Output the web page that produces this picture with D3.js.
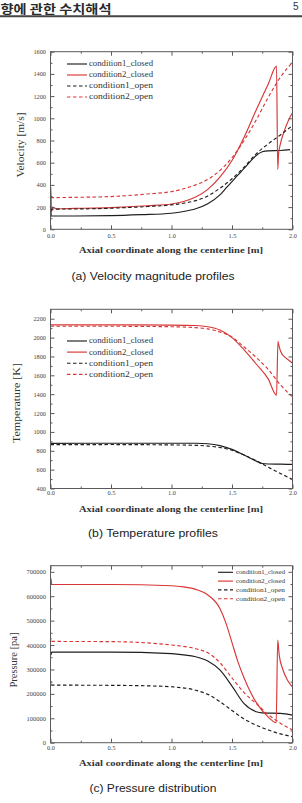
<!DOCTYPE html>
<html><head><meta charset="utf-8">
<script src="https://cdn.jsdelivr.net/npm/d3@7"></script>
<style>body{margin:0;background:#fff}svg{display:block}</style>
</head><body>
<script>
// ---------- data ----------
const seriesNames = ["condition1_closed", "condition2_closed", "condition1_open", "condition2_open"];
const xTicks = [0, 0.5, 1.0, 1.5, 2.0];
const xTickLabels = ["0.0", "0.5", "1.0", "1.5", "2.0"];
const velTicks = [0, 200, 400, 600, 800, 1000, 1200, 1400, 1600];
const tempTicks = [400, 600, 800, 1000, 1200, 1400, 1600, 1800, 2000, 2200];
const presTicks = [0, 100000, 200000, 300000, 400000, 500000, 600000, 700000];

// Velocity [m/s]  ([x, value])
const velC1Closed = [[0,120],[0.2,120],[0.5,123],[0.75,132],[1.0,145],[1.1,160],[1.2,185],[1.3,230],[1.4,310],[1.45,370],[1.5,430],[1.55,490],[1.6,548],[1.65,610],[1.7,665],[1.75,698],[1.8,707],[1.9,710],[1.98,718]];
const velC2Closed = [[0,190],[0.003,380],[0.008,150],[0.015,200],[0.05,185],[0.2,188],[0.5,195],[0.8,212],[1.0,228],[1.1,250],[1.2,290],[1.3,360],[1.4,470],[1.5,620],[1.6,830],[1.7,1075],[1.8,1310],[1.868,1470],[1.878,540],[1.885,680],[1.9,770],[1.93,880],[1.97,990],[2.0,1050]];
const velC1Open = [[0,180],[0.004,120],[0.01,182],[0.2,183],[0.5,190],[0.8,205],[1.0,220],[1.1,235],[1.2,258],[1.3,300],[1.4,370],[1.5,455],[1.6,560],[1.7,680],[1.8,770],[1.9,850],[2.0,935]];
const velC2Open = [[0,285],[0.2,288],[0.5,295],[0.8,318],[1.0,340],[1.1,365],[1.2,400],[1.3,450],[1.4,530],[1.5,645],[1.6,800],[1.7,985],[1.8,1190],[1.9,1370],[2.0,1505]];

// Temperature [K]
const tempC1Closed = [[0,878],[0.5,880],[1.0,880],[1.2,880],[1.3,875],[1.4,855],[1.5,815],[1.6,755],[1.7,690],[1.75,665],[1.8,660],[1.9,658],[2.0,655]];
const tempC2Closed = [[0,2135],[0.5,2135],[1.0,2133],[1.2,2128],[1.3,2115],[1.4,2080],[1.5,2000],[1.6,1870],[1.7,1720],[1.8,1560],[1.868,1390],[1.88,1960],[1.885,1930],[1.9,1860],[1.93,1800],[1.97,1760],[2.0,1728]];
const tempC1Open = [[0,865],[0.5,866],[1.0,862],[1.2,858],[1.3,850],[1.4,835],[1.5,805],[1.6,755],[1.7,695],[1.8,625],[1.9,560],[2.0,495]];
const tempC2Open = [[0,2120],[0.5,2120],[1.0,2115],[1.2,2105],[1.3,2092],[1.4,2060],[1.5,2005],[1.6,1900],[1.7,1790],[1.8,1660],[1.9,1500],[2.0,1370]];

// Pressure [pa]
const presC1Closed = [[0,372000],[0.004,360000],[0.01,371000],[0.5,371000],[1.0,365000],[1.1,360000],[1.2,352000],[1.3,335000],[1.4,298000],[1.5,232000],[1.6,160000],[1.7,127000],[1.75,122000],[1.9,120000],[2.0,113000]];
const presC2Closed = [[0,650000],[0.004,672000],[0.01,648000],[0.5,648000],[1.0,643000],[1.1,638000],[1.2,628000],[1.3,605000],[1.4,550000],[1.45,490000],[1.5,410000],[1.55,330000],[1.6,265000],[1.65,210000],[1.7,165000],[1.8,105000],[1.865,82000],[1.878,420000],[1.89,360000],[1.92,300000],[1.96,255000],[2.0,228000]];
const presC1Open = [[0,237000],[0.004,250000],[0.01,236000],[0.5,235000],[0.8,233000],[1.0,229000],[1.2,215000],[1.3,198000],[1.4,168000],[1.5,132000],[1.6,97000],[1.7,72000],[1.8,52000],[1.9,36000],[2.0,25000]];
const presC2Open = [[0,416000],[0.005,428000],[0.01,415000],[0.5,414000],[1.0,400000],[1.2,385000],[1.3,368000],[1.4,328000],[1.5,265000],[1.6,205000],[1.7,160000],[1.8,115000],[1.9,80000],[2.0,52000]];

const xTitle = "Axial coordinate along the centerline [m]";
const captions = ["(a)  Velocity  magnitude  profiles", "(b)  Temperature  profiles", "(c)  Pressure  distribution"];
const yTitles = ["Velocity [m/s]", "Temperature [K]", "Pressure [pa]"];

// ---------- drawing ----------
const W = 302, H = 803;
const svg = d3.select("body").append("svg").attr("width", W).attr("height", H);

// header
svg.append("text").attr("x", 0.5).attr("y", 14).attr("textLength", 111).attr("lengthAdjust", "spacingAndGlyphs")
  .style("font-family", "'Noto Sans CJK KR'").style("font-size", "12px").style("font-weight", "700").attr("fill", "#2a2a2a")
  .text("향에 관한 수치해석");
svg.append("text").attr("x", 293).attr("y", 10).style("font-family", "'Liberation Sans'").style("font-size", "10px").attr("fill", "#333").text("5");
svg.append("line").attr("x1", 0).attr("x2", W).attr("y1", 16.3).attr("y2", 16.3).attr("stroke", "#444").attr("stroke-width", 2);

const RED = "#d93636", BLK = "#1e1e1e";
const styles = [
  {color: BLK, dash: null},
  {color: RED, dash: null},
  {color: BLK, dash: "3.5,2.5"},
  {color: RED, dash: "3.5,2.5"}
];

function drawChart(cfg) {
  const x = d3.scaleLinear().domain([0, 2]).range([50.5, 292.5]);
  const y = d3.scaleLinear().domain(cfg.domain).range([cfg.bottom, cfg.top]);
  const g = svg.append("g");
  const fr = "#5a5a5a";

  // series
  const line = d3.line().x(d => x(d[0])).y(d => y(d[1])).curve(d3.curveMonotoneX);
  cfg.series.forEach((s, i) => {
    g.append("path").attr("d", line(s)).attr("fill", "none")
      .attr("stroke", styles[i].color).attr("stroke-width", 1.15)
      .attr("stroke-dasharray", styles[i].dash);
  });

  // frame
  g.append("rect").attr("x", x(0)).attr("y", cfg.top).attr("width", x(2) - x(0)).attr("height", cfg.bottom - cfg.top)
    .attr("fill", "none").attr("stroke", fr).attr("stroke-width", 1);

  const tickStyle = sel => { sel.select(".domain").remove(); sel.selectAll("line").attr("stroke", fr); };
  const labStyle = (sel, fs) => sel.selectAll("text").style("font-family", "'Liberation Serif'").style("font-size", fs + "px").attr("fill", "#444");

  const minorX = d3.range(0.25, 2, 0.5);
  const minorY = cfg.ticks.slice(0, -1).map((t, k) => (t + cfg.ticks[k + 1]) / 2);

  // bottom
  g.append("g").attr("transform", `translate(0,${cfg.bottom})`)
    .call(d3.axisBottom(x).tickValues(xTicks).tickFormat((d, k) => xTickLabels[k]).tickSize(-4).tickPadding(cfg.xPad))
    .call(tickStyle).call(s => labStyle(s, 6.3));
  g.append("g").attr("transform", `translate(0,${cfg.bottom})`)
    .call(d3.axisBottom(x).tickValues(minorX).tickFormat("").tickSize(-2)).call(tickStyle);
  // top
  g.append("g").attr("transform", `translate(0,${cfg.top})`)
    .call(d3.axisTop(x).tickValues(xTicks).tickFormat("").tickSize(-4)).call(tickStyle);
  g.append("g").attr("transform", `translate(0,${cfg.top})`)
    .call(d3.axisTop(x).tickValues(minorX).tickFormat("").tickSize(-2)).call(tickStyle);
  // left
  g.append("g").attr("transform", `translate(${x(0)},0)`)
    .call(d3.axisLeft(y).tickValues(cfg.ticks).tickFormat(d3.format("d")).tickSize(-4).tickPadding(4.5))
    .call(tickStyle).call(s => labStyle(s, cfg.yFs));
  g.append("g").attr("transform", `translate(${x(0)},0)`)
    .call(d3.axisLeft(y).tickValues(minorY).tickFormat("").tickSize(-2)).call(tickStyle);
  // right
  g.append("g").attr("transform", `translate(${x(2)},0)`)
    .call(d3.axisRight(y).tickValues(cfg.ticks).tickFormat("").tickSize(-4)).call(tickStyle);
  g.append("g").attr("transform", `translate(${x(2)},0)`)
    .call(d3.axisRight(y).tickValues(minorY).tickFormat("").tickSize(-2)).call(tickStyle);

  // y title
  g.append("text").attr("transform", `translate(${cfg.yTitleX},${cfg.yTitleY}) rotate(-90)`)
    .attr("text-anchor", "middle").attr("textLength", cfg.yTitleLen).attr("lengthAdjust", "spacingAndGlyphs")
    .style("font-family", "'Liberation Serif'").style("font-size", "10.5px").attr("fill", "#333").text(cfg.yTitle);
  // x title
  g.append("text").attr("x", 171).attr("y", cfg.xTitleY).attr("text-anchor", "middle")
    .attr("textLength", 184).attr("lengthAdjust", "spacingAndGlyphs")
    .style("font-family", "'Liberation Serif'").style("font-weight", "700").style("font-size", "9px").attr("fill", "#333").text(xTitle);
  // caption
  g.append("text").attr("x", 153).attr("y", cfg.capY).attr("text-anchor", "middle")
    .attr("textLength", cfg.capLen).attr("lengthAdjust", "spacingAndGlyphs")
    .style("font-family", "'Liberation Sans'").style("font-size", "10px").attr("fill", "#222").text(cfg.caption);

  // legend
  const L = cfg.legend;
  seriesNames.forEach((n, i) => {
    const yy = L.y0 + i * L.dy;
    g.append("line").attr("x1", L.x0).attr("x2", L.x0 + L.len).attr("y1", yy).attr("y2", yy)
      .attr("stroke", styles[i].color).attr("stroke-width", 1.15).attr("stroke-dasharray", styles[i].dash);
    g.append("text").attr("x", L.x0 + L.len + L.gap).attr("y", yy + L.fs * 0.33)
      .attr("textLength", L.tl).attr("lengthAdjust", "spacingAndGlyphs")
      .style("font-family", "'Liberation Serif'").style("font-size", L.fs + "px").attr("fill", "#333").text(n);
  });
}

drawChart({
  domain: [0, 1600], top: 51.7, bottom: 229.3, ticks: velTicks, yFs: 6.3, xPad: 4,
  series: [velC1Closed, velC2Closed, velC1Open, velC2Open],
  yTitle: yTitles[0], yTitleX: 24, yTitleY: 145, yTitleLen: 65,
  xTitleY: 253, capY: 280, capLen: 163, caption: captions[0],
  legend: {x0: 67, y0: 64, dy: 11, len: 20, gap: 2, fs: 7.5, tl: 64}
});
drawChart({
  domain: [400, 2300], top: 309.3, bottom: 488.5, ticks: tempTicks, yFs: 6.3, xPad: 2,
  series: [tempC1Closed, tempC2Closed, tempC1Open, tempC2Open],
  yTitle: yTitles[1], yTitleX: 20, yTitleY: 403, yTitleLen: 80,
  xTitleY: 512, capY: 537, capLen: 130, caption: captions[1],
  legend: {x0: 67, y0: 341, dy: 11.1, len: 20, gap: 2, fs: 7.5, tl: 64}
});
drawChart({
  domain: [0, 725000], top: 565.7, bottom: 742.7, ticks: presTicks, yFs: 6.5, xPad: 2.5,
  series: [presC1Closed, presC2Closed, presC1Open, presC2Open],
  yTitle: yTitles[2], yTitleX: 17, yTitleY: 660, yTitleLen: 55,
  xTitleY: 766, capY: 792, capLen: 127, caption: captions[2],
  legend: {x0: 218, y0: 572.3, dy: 8.8, len: 15, gap: 3, fs: 6, tl: 49}
});
</script>
</body></html>
